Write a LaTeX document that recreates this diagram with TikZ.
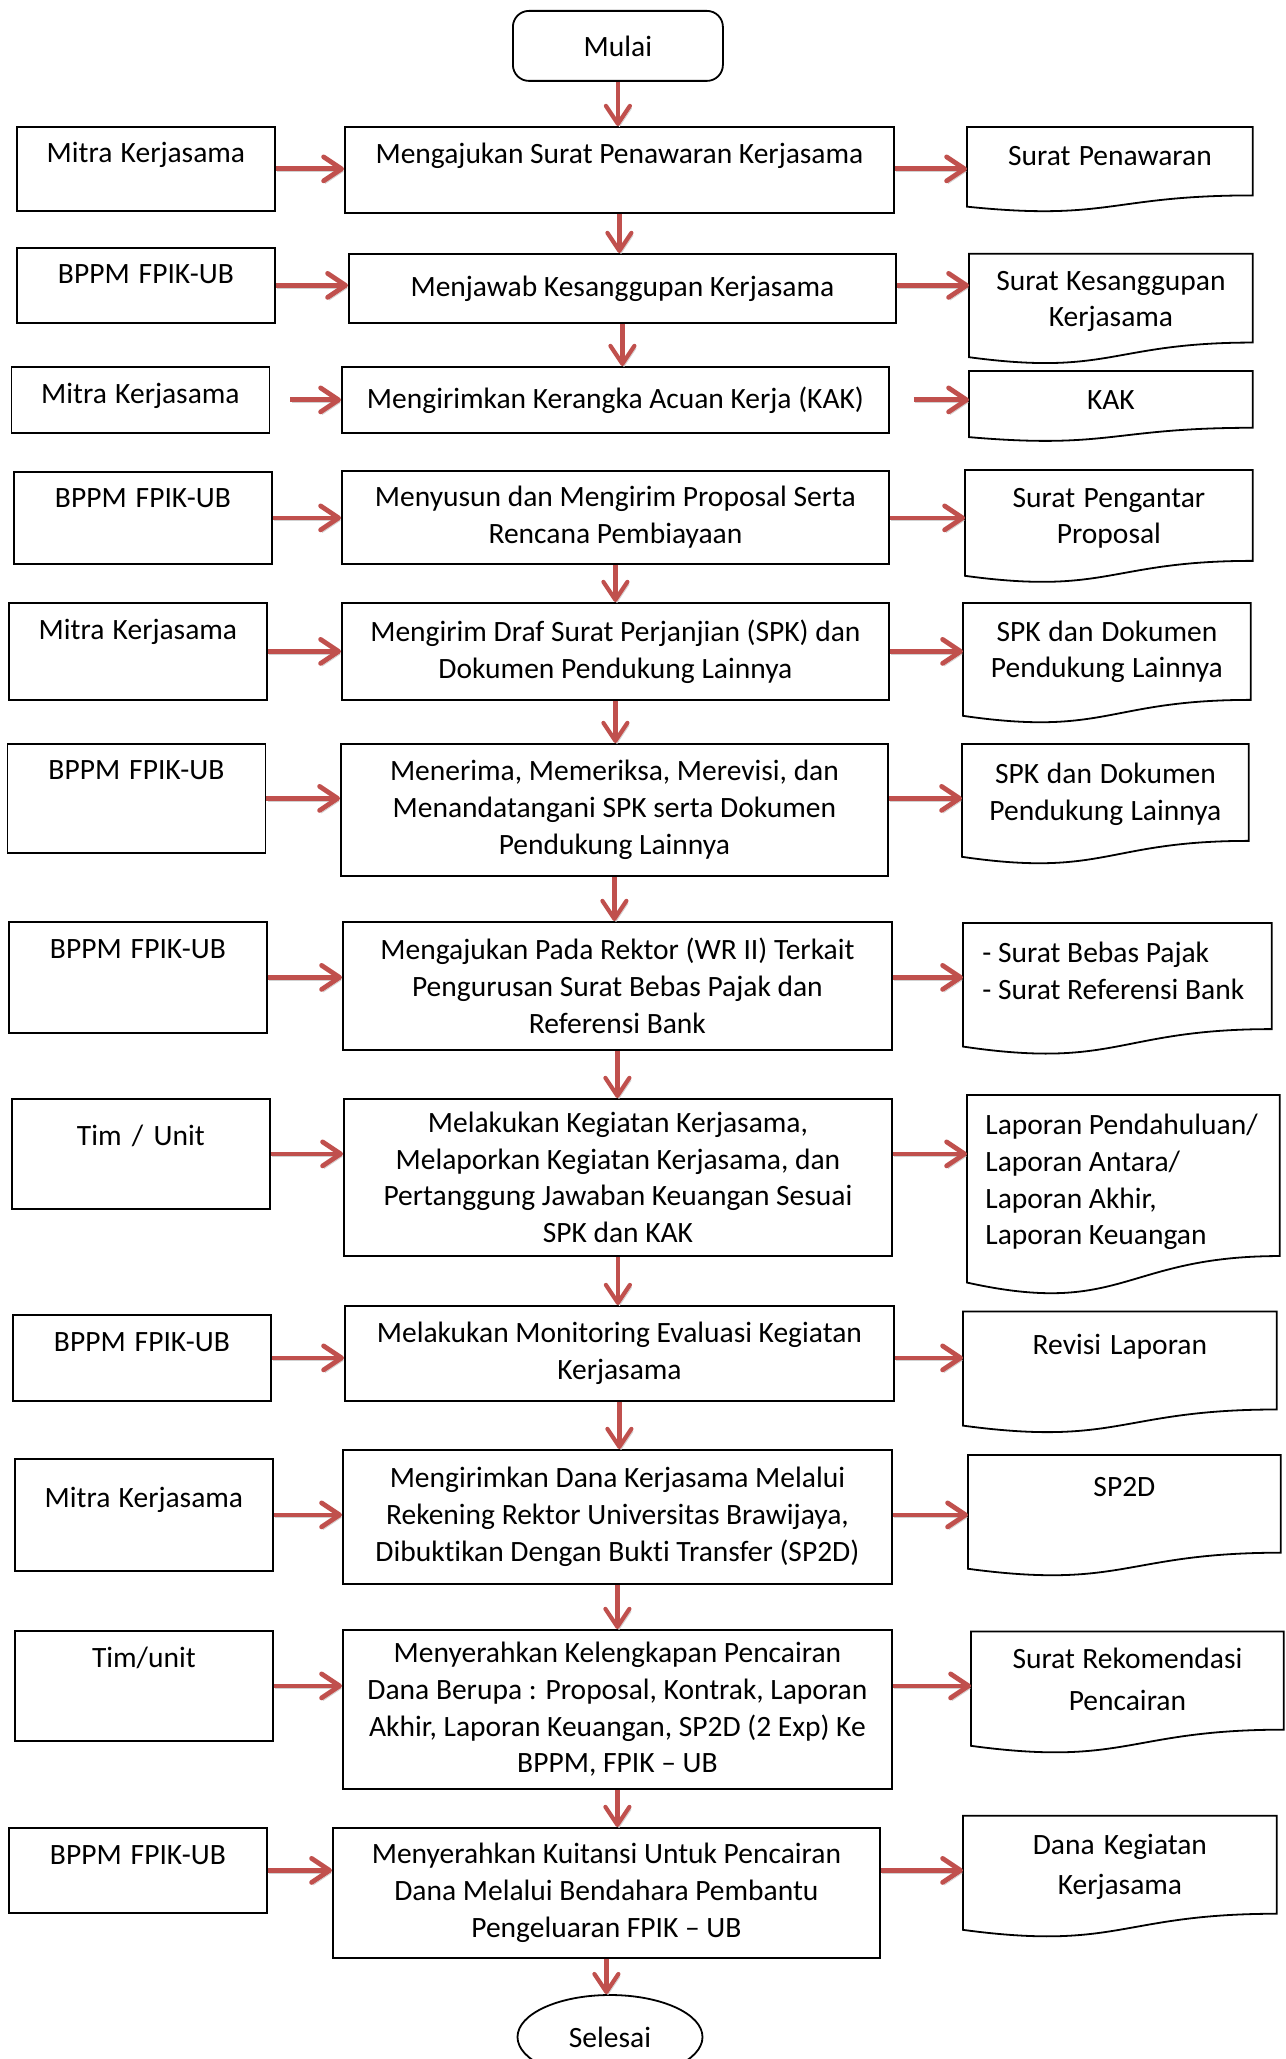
\documentclass[tikz,border=0pt]{standalone}
\usepackage{fontspec}
\setmainfont{Carlito}[Ligatures=NoCommon]
\usetikzlibrary{arrows.meta,positioning}
\usetikzlibrary{calc}
\usetikzlibrary{shapes.geometric}
\definecolor{arrowred}{HTML}{C0504D}

\begin{document}
\begin{tikzpicture}[x=0.5pt, y=-0.5pt,
    every node/.style={font=\fontsize{14.75pt}{18.4pt}\selectfont,
      execute at begin node={\spaceskip=0pt\xspaceskip=0pt}},
    proc/.style={draw, line width=0.9pt, align=center, inner sep=0pt, anchor=north west},
    who/.style={draw, line width=0.9pt, text width=129pt, align=center, inner sep=0pt, anchor=north west},
    doc/.style={text width=130pt, align=center, inner sep=0pt, anchor=north west},
    docline/.style={line width=0.9pt},
    flow/.style={draw=arrowred, line width=2.4pt, -{Straight Barb[length=9pt,width=12pt,round]},
      preaction={draw=black!18, transform canvas={shift={(0.8pt,-1.3pt)}}}},
    flowdown/.style={flow, line width=2.1pt},
    topline/.code 2 args={%
      \pgfmathsetmacro\boxht{#2*0.5}%
      \pgfmathsetmacro\boxdp{(#1-#2)*0.5}%
      \tikzset{text height=\boxht pt, text depth=\boxdp pt}%
    }
  ]

        \useasboundingbox (0,0) rectangle (1285,2059);

        % start and end
        \node[proc, rounded corners=8pt, minimum width=105pt, minimum height=35pt] (mulai) at (512,10) {Mulai};
        \node[draw, ellipse, line width=0.9pt, minimum width=92.5pt, minimum height=42pt, inner sep=0pt] (selesai) at (610,2037) {Selesai};

        % the process column
        \node[proc, minimum width=274.5pt, topline={86}{37}] (proc1) at (344,126) {Mengajukan Surat Penawaran Kerjasama};
        \node[proc, minimum width=273.5pt, minimum height=34.5pt] (proc2) at (348,253) {Menjawab Kesanggupan Kerjasama};
        \node[proc, minimum width=273.5pt, minimum height=33pt] (proc3) at (341,366) {Mengirimkan Kerangka Acuan Kerja (KAK)};
        \node[proc, minimum width=273.5pt, minimum height=46.5pt] (proc4) at (341,470) {Menyusun dan Mengirim Proposal Serta\\Rencana Pembiayaan};
        \node[proc, minimum width=273.5pt, minimum height=48.5pt] (proc5) at (341,602) {Mengirim Draf Surat Perjanjian (SPK) dan\\Dokumen Pendukung Lainnya};
        \node[proc, minimum width=273.5pt, minimum height=66pt] (proc6) at (340,743) {Menerima, Memeriksa, Merevisi, dan\\Menandatangani SPK serta Dokumen\\Pendukung Lainnya};
        \node[proc, minimum width=274.5pt, minimum height=64pt] (proc7) at (342,921) {Mengajukan Pada Rektor (WR II) Terkait\\Pengurusan Surat Bebas Pajak dan\\Referensi Bank};
        \node[proc, minimum width=274pt, minimum height=78.5pt] (proc8) at (343,1098) {Melakukan Kegiatan Kerjasama,\\Melaporkan Kegiatan Kerjasama, dan\\Pertanggung Jawaban Keuangan Sesuai\\SPK dan KAK};
        \node[proc, minimum width=274.5pt, minimum height=47.5pt] (proc9) at (344,1305) {Melakukan Monitoring Evaluasi Kegiatan\\Kerjasama};
        \node[proc, minimum width=274.5pt, minimum height=67pt] (proc10) at (342,1449) {Mengirimkan Dana Kerjasama Melalui\\Rekening Rektor Universitas Brawijaya,\\Dibuktikan Dengan Bukti Transfer (SP2D)};
        \node[proc, minimum width=274.5pt, minimum height=79.5pt] (proc11) at (342,1629) {Menyerahkan Kelengkapan Pencairan\\Dana Berupa : Proposal, Kontrak, Laporan\\Akhir, Laporan Keuangan, SP2D (2 Exp) Ke\\BPPM, FPIK -- UB};
        \node[proc, minimum width=273.5pt, minimum height=65pt] (proc12) at (332,1827) {Menyerahkan Kuitansi Untuk Pencairan\\Dana Melalui Bendahara Pembantu\\Pengeluaran FPIK -- UB};

        % who does it
        \node[who, topline={84}{36}] (who1) at (16,126) {Mitra Kerjasama};
        \node[who, topline={75}{36}] (who2) at (16,247) {BPPM FPIK-UB};
        \node[who, topline={66}{36.5}] (who3) at (10.5,366) {Mitra Kerjasama};
        \node[who, topline={92}{36}] (who4) at (13,471) {BPPM FPIK-UB};
        \node[who, topline={97}{37}] (who5) at (8,602) {Mitra Kerjasama};
        \node[who, topline={109}{35.5}] (who6) at (6.5,743) {BPPM FPIK-UB};
        \node[who, topline={111}{37}] (who7) at (8,921) {BPPM FPIK-UB};
        \node[who, topline={110}{47}] (who8) at (11,1098) {Tim / Unit};
        \node[who, topline={86}{37}] (who9) at (12,1314) {BPPM FPIK-UB};
        \node[who, topline={112}{49}] (who10) at (14,1458) {Mitra Kerjasama};
        \node[who, topline={110}{37}] (who11) at (14,1630) {Tim/unit};
        \node[who, topline={85}{37}] (who12) at (8,1827) {BPPM FPIK-UB};

        % the documents
        \node[doc, minimum width=142.5pt, topline={84.5}{38}] (doc1) at (967,127) {Surat Penawaran};
        \node[doc, minimum width=141.5pt, topline={110}{36}] (doc2) at (969,253.7) {Surat Kesanggupan\\Kerjasama};
        \node[doc, minimum width=141.5pt, topline={70}{38}] (doc3) at (969,371) {KAK};
        \node[doc, minimum width=143.5pt, topline={112.5}{36.7}] (doc4) at (965,470) {Surat Pengantar\\Proposal};
        \node[doc, minimum width=143.5pt, topline={120}{37.6}] (doc5) at (963,603) {SPK dan Dokumen\\Pendukung Lainnya};
        \node[doc, minimum width=143pt, topline={120}{39}] (doc6) at (962,744) {SPK dan Dokumen\\Pendukung Lainnya};
        \node[doc, minimum width=154pt, text width=135pt, align=left, topline={131.5}{39.4}] (doc7) at (963,923) {- Surat Bebas Pajak\\- Surat Referensi Bank};
        \node[doc, minimum width=156pt, text width=138pt, align=left, topline={200}{39}] (doc8) at (967,1095) {Laporan Pendahuluan/\\Laporan Antara/\\Laporan Akhir,\\Laporan Keuangan};
        \node[doc, minimum width=156.5pt, topline={121.5}{42.6}] (doc9) at (963,1311.4) {Revisi Laporan};
        \node[doc, minimum width=156pt, topline={121}{41.3}] (doc10) at (968,1455) {SP2D};
        \node[doc, minimum width=156pt, topline={121.7}{37.1}, font=\fontsize{14.75pt}{20.6pt}\selectfont] (doc11) at (971,1631.4) {Surat Rekomendasi\\Pencairan};
        \node[doc, minimum width=156.5pt, topline={121.3}{38.2}, font=\fontsize{14.75pt}{20.2pt}\selectfont] (doc12) at (963,1815.8) {Dana Kegiatan\\Kerjasama};

        % document outlines with the wavy bottom
        \foreach \n in {1,...,12}{
          \draw[docline] (doc\n.north west) -- (doc\n.north east)
            -- ($(doc\n.north east)!0.802!(doc\n.south east)$)
            .. controls ($(doc\n.north)!0.802!(doc\n.south)$) and ($(doc\n.north)!1.107!(doc\n.south)$)
            .. ($(doc\n.north west)!0.934!(doc\n.south west)$) -- cycle;
        }

        % draw the arrows down the middle
        \draw[flowdown] (mulai.south) -- (mulai.south |- proc1.north);
        \draw[flowdown] (proc1.south) -- (proc1.south |- proc2.north);
        \draw[flowdown] (proc2.south) -- (proc2.south |- proc3.north);
        \draw[flowdown] (proc4.south) -- (proc4.south |- proc5.north);
        \draw[flowdown] (proc5.south) -- (proc5.south |- proc6.north);
        \draw[flowdown] (proc6.south) -- (proc6.south |- proc7.north);
        \draw[flowdown] (proc7.south) -- (proc7.south |- proc8.north);
        \draw[flowdown] (proc8.south) -- (proc8.south |- proc9.north);
        \draw[flowdown] (proc9.south) -- (proc9.south |- proc10.north);
        \draw[flowdown] (proc10.south) -- (proc10.south |- proc11.north);
        \draw[flowdown] (proc11.south) -- (proc11.south |- proc12.north);
        \draw[flowdown] (proc12.south) -- (proc12.south |- selesai.north);

        % draw the arrows into and out of each step
        \draw[flow] (who1.east) -- (who1.east -| proc1.west);
        \draw[flow] (proc1.east |- who1.east) -- (doc1.west |- who1.east);
        \draw[flow] (who2.east) -- (who2.east -| proc2.west);
        \draw[flow] (proc2.east |- who2.east) -- (doc2.west |- who2.east);
        \draw[flow, shorten <=10pt] (who3.east) -- (who3.east -| proc3.west);
        \draw[flow, shorten <=12pt] (proc3.east |- who3.east) -- (doc3.west |- who3.east);
        \draw[flow] (who4.east) -- (who4.east -| proc4.west);
        \draw[flow] (proc4.east |- who4.east) -- (doc4.west |- who4.east);
        \draw[flow] (who5.east) -- (who5.east -| proc5.west);
        \draw[flow] (proc5.east |- who5.east) -- (doc5.west |- who5.east);
        \draw[flow] (who6.east) -- (who6.east -| proc6.west);
        \draw[flow] (proc6.east |- who6.east) -- (doc6.west |- who6.east);
        \draw[flow] (who7.east) -- (who7.east -| proc7.west);
        \draw[flow] (proc7.east |- who7.east) -- (doc7.west |- who7.east);
        \draw[flow] (who8.east) -- (who8.east -| proc8.west);
        \draw[flow] (proc8.east |- who8.east) -- (doc8.west |- who8.east);
        \draw[flow] (who9.east) -- (who9.east -| proc9.west);
        \draw[flow] (proc9.east |- who9.east) -- (doc9.west |- who9.east);
        \draw[flow] (who10.east) -- (who10.east -| proc10.west);
        \draw[flow] (proc10.east |- who10.east) -- (doc10.west |- who10.east);
        \draw[flow] (who11.east) -- (who11.east -| proc11.west);
        \draw[flow] (proc11.east |- who11.east) -- (doc11.west |- who11.east);
        \draw[flow] (who12.east) -- (who12.east -| proc12.west);
        \draw[flow] (proc12.east |- who12.east) -- (doc12.west |- who12.east);

\end{tikzpicture}
\end{document}
